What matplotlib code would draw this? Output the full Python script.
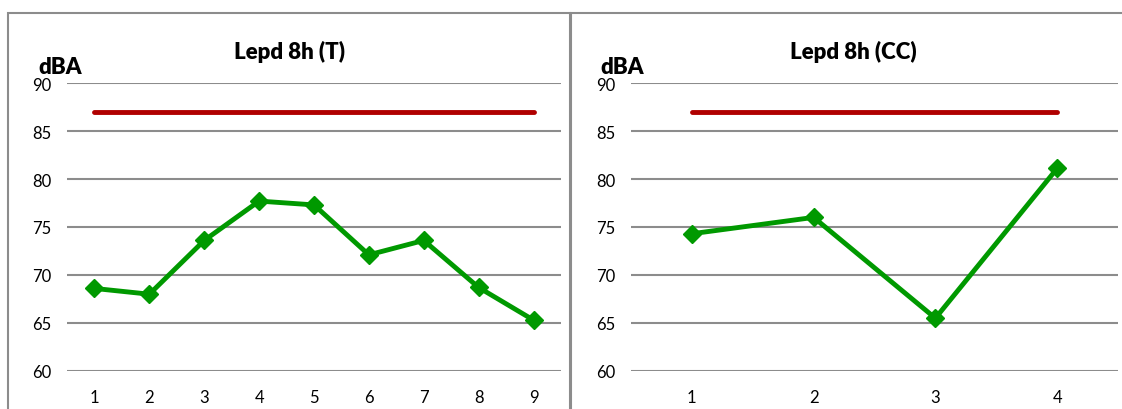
import matplotlib.pyplot as plt
from matplotlib.patches import Rectangle

# data
cat_T = [1, 2, 3, 4, 5, 6, 7, 8, 9]
lepd_T = [68.6, 68.0, 73.6, 77.7, 77.3, 72.1, 73.6, 68.7, 65.3]
limit_T = [87, 87, 87, 87, 87, 87, 87, 87, 87]

cat_CC = [1, 2, 3, 4]
lepd_CC = [74.3, 76.0, 65.5, 81.1]
limit_CC = [87, 87, 87, 87]

yticks = [60, 65, 70, 75, 80, 85, 90]

plt.rcParams['font.family'] = ['Lato', 'DejaVu Sans']

W, H = 1122, 410
fig = plt.figure(figsize=(W / 100, H / 100), dpi=100)

# panel frames
fig.patches.append(Rectangle((8 / W, -0.1), 562 / W, 1.1 - 14 / H, transform=fig.transFigure,
                             fill=False, edgecolor='#8c8c8c', linewidth=1.5))
fig.patches.append(Rectangle((571 / W, -0.1), 600 / W, 1.1 - 14 / H, transform=fig.transFigure,
                             fill=False, edgecolor='#8c8c8c', linewidth=1.5))

panels = [
    (cat_T, lepd_T, limit_T, 'Lepd 8h (T)', 67, 561, 289, 38),
    (cat_CC, lepd_CC, limit_CC, 'Lepd 8h (CC)', 631, 1118, 853, 600),
]

bottom = 1 - 372 / H
top = 1 - 84 / H

for cats, vals, lim, title, x0, x1, tx, ux in panels:
    ax = fig.add_axes([x0 / W, bottom, (x1 - x0) / W, top - bottom])
    ax.plot(cats, lim, color='#b00000', linewidth=3.5, solid_capstyle='round', zorder=3)
    ax.plot(cats, vals, color='#009900', linewidth=3.5, marker='D', markersize=9,
            markeredgecolor='#009900', zorder=4)
    ax.set_xlim(0.5, len(cats) + 0.5)
    ax.set_ylim(60, 90)
    ax.set_yticks(yticks)
    ax.set_xticks(cats)
    ax.yaxis.grid(True, color='#8c8c8c', linewidth=1.5)
    ax.set_axisbelow(True)
    for s in ax.spines.values():
        s.set_visible(False)
    ax.tick_params(axis='both', length=0, labelsize=12, colors='black')
    ax.tick_params(axis='y', pad=11)
    ax.tick_params(axis='x', pad=13)
    fig.text(tx / W, 1 - 52 / H, title, ha='center', va='center',
             fontsize=16, fontweight='heavy')
    fig.text(ux / W, 1 - 67 / H, 'dBA', ha='left', va='center',
             fontsize=16, fontweight='heavy')

fig.savefig('out.png', dpi=100)
